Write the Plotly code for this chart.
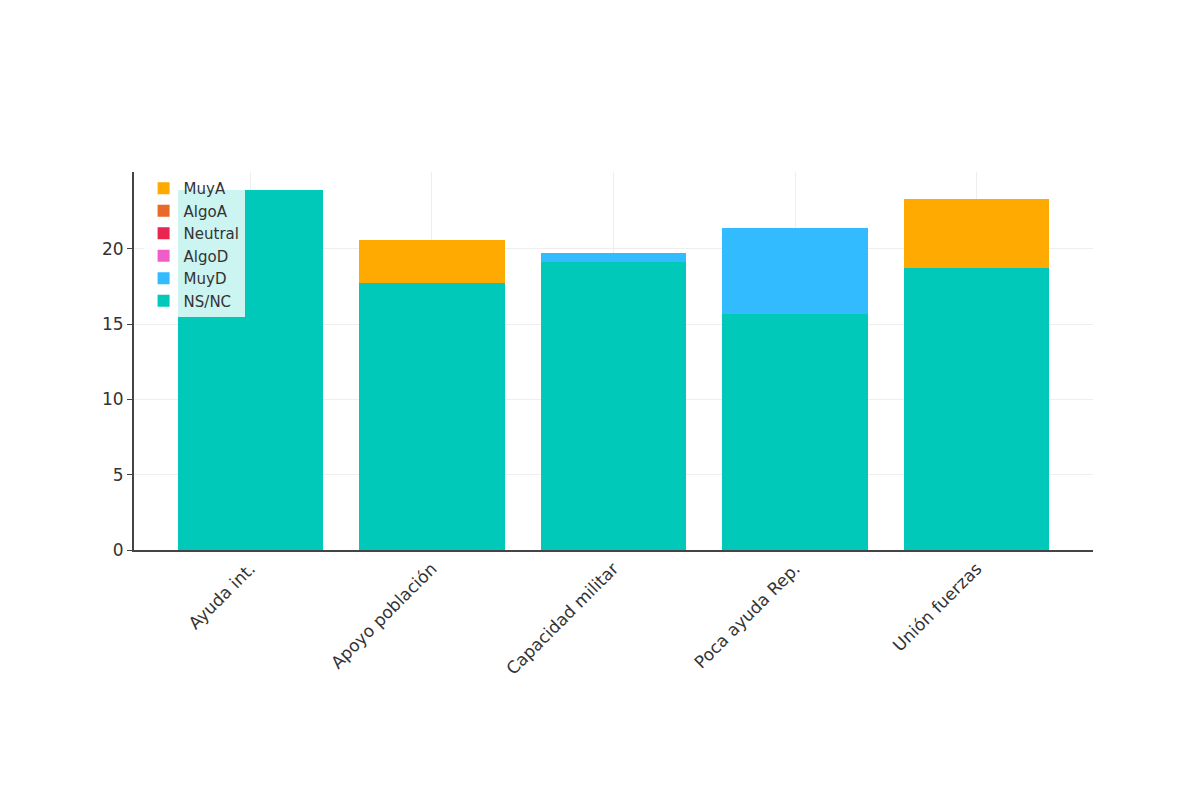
import plotly.graph_objects as go

categories = ["Ayuda int.", "Apoyo población", "Capacidad militar", "Poca ayuda Rep.", "Unión fuerzas"]
ns_nc = [23.9, 17.7, 19.1, 15.7, 18.7]
muy_d = [0, 0, 0.6, 5.7, 0]
algo_d = [0, 0, 0, 0, 0]
neutral = [0, 0, 0, 0, 0]
algo_a = [0, 0, 0, 0, 0]
muy_a = [0, 2.9, 0, 0, 4.6]

series = [("NS/NC", ns_nc, "#00C9B9"), ("MuyD", muy_d, "#33BBFF"), ("AlgoD", algo_d, "#F05CC8"),
          ("Neutral", neutral, "#E8264F"), ("AlgoA", algo_a, "#E8692A"), ("MuyA", muy_a, "#FFAA00")]

fig = go.Figure()
for name, vals, col in series:
    fig.add_bar(x=categories, y=vals, name=name, marker=dict(color=col, line=dict(width=0)))

fig.update_layout(
    barmode="stack", bargap=0.2, width=1200, height=800,
    paper_bgcolor="white", plot_bgcolor="white",
    margin=dict(l=126, r=115, t=164, b=258),
    font=dict(family="DejaVu Sans", size=17, color="#333"),
    legend=dict(x=0.01, y=1.0, xanchor="left", yanchor="top", traceorder="reversed",
                bgcolor="rgba(255,255,255,0.8)", font=dict(size=15)),
    showlegend=True,
)
fig.update_xaxes(range=[-0.64, 4.64], tickangle=-45, showline=True, linecolor="#444", linewidth=2,
                 showgrid=True, gridcolor="#eeeeee")
fig.update_yaxes(range=[0, 25.1], tickvals=[0, 5, 10, 15, 20], showline=True, linecolor="#444", linewidth=2,
                 showgrid=True, gridcolor="#eeeeee", zeroline=False, ticks="outside", tickcolor="#444")
fig.write_html("out.html")
